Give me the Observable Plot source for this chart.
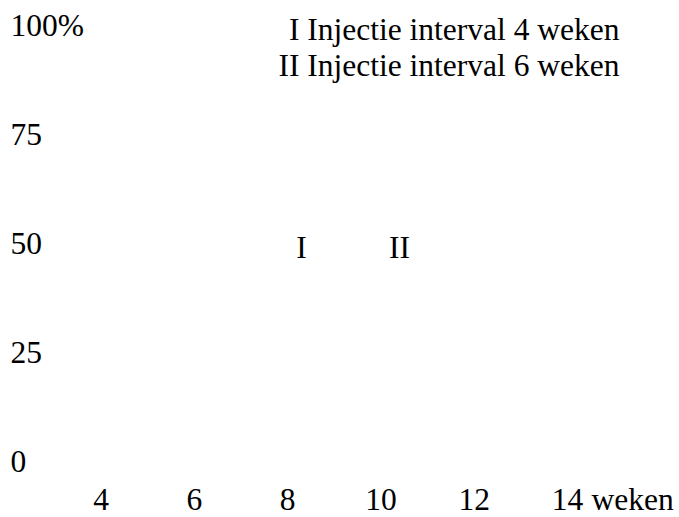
<!DOCTYPE html>
<html>
<head>
<meta charset="utf-8">
<script src="https://cdn.jsdelivr.net/npm/d3@7"></script>
<script src="https://cdn.jsdelivr.net/npm/@observablehq/plot@0.6"></script>
<style>
  html, body { margin: 0; padding: 0; background: #fff; }
  svg { display: block; }
</style>
</head>
<body>
<div id="chart"></div>
<script>
const yTicks = [0, 25, 50, 75, 100];
const xTicks = [4, 6, 8, 10, 12, 14];
const xUnit = "weken";
const seriesLabels = ["I", "II"];
const seriesX = [8.3, 10.4];
const seriesY = [49, 49];
const legendLines = ["I Injectie interval 4 weken", "II Injectie interval 6 weken"];

const labelData = seriesLabels.map((s, i) => ({label: s, x: seriesX[i], y: seriesY[i]}));

const W = 679, H = 517;
const mL = 100.5, mR = 112, mT = 25.6, mB = 56;
const FS = 31.5;

const chart = Plot.plot({
  width: W,
  height: H,
  marginLeft: mL,
  marginRight: mR,
  marginTop: mT,
  marginBottom: mB,
  style: {fontFamily: "'Liberation Serif', 'Times New Roman', serif", fontSize: FS + "px", background: "#fff", color: "#000", overflow: "visible"},
  x: {domain: [4, 14], axis: null},
  y: {domain: [0, 100], axis: null},
  marks: [
    Plot.text(yTicks, {y: d => d, text: d => d === 100 ? "100%" : String(d), frameAnchor: "left", textAnchor: "start", lineAnchor: "middle", dx: 10 - mL, fontSize: FS, fill: "#000"}),
    Plot.text(xTicks, {x: d => d, text: d => String(d), frameAnchor: "bottom", lineAnchor: "middle", dy: 38.5, fontSize: FS, fill: "#000"}),
    Plot.text([xTicks[xTicks.length - 1]], {x: d => d, text: () => xUnit, frameAnchor: "bottom", lineAnchor: "middle", textAnchor: "start", dx: 24, dy: 38.5, fontSize: FS, fill: "#000"}),
    Plot.text(labelData, {x: "x", y: "y", text: "label", lineAnchor: "middle", fontSize: FS, fill: "#000"}),
    Plot.text([legendLines.join("\n")], {frameAnchor: "top-right", textAnchor: "end", lineAnchor: "top", lineHeight: 1.15, dx: 52, dy: -12.3, fontSize: FS, fill: "#000"})
  ]
});
document.getElementById("chart").appendChild(chart);
</script>
</body>
</html>
